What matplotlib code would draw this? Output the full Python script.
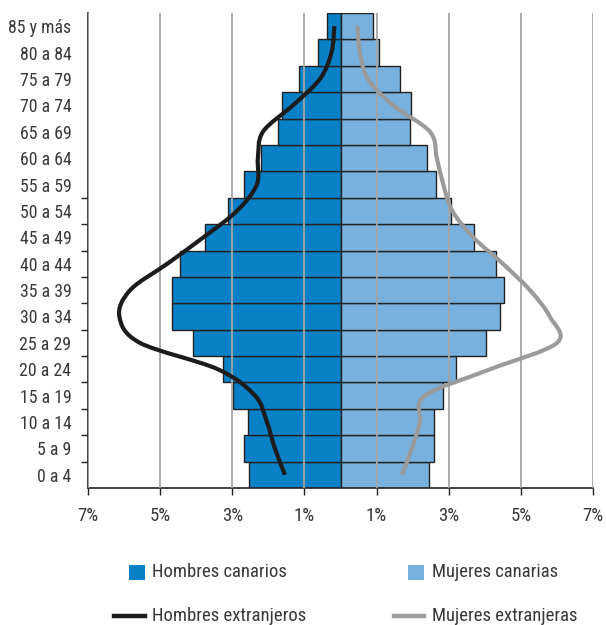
import matplotlib
matplotlib.use('Agg')
import matplotlib.pyplot as plt
from matplotlib.path import Path
from matplotlib.patches import PathPatch, Rectangle
from matplotlib.lines import Line2D
import numpy as np

plt.rcParams['font.family'] = ['Roboto Condensed', 'DejaVu Sans']

grupos = ['0 a 4', '5 a 9', '10 a 14', '15 a 19', '20 a 24', '25 a 29', '30 a 34',
          '35 a 39', '40 a 44', '45 a 49', '50 a 54', '55 a 59', '60 a 64', '65 a 69',
          '70 a 74', '75 a 79', '80 a 84', '85 y más']

# % de la poblacion (de 0 a 4 hasta 85 y mas)
hombres_canarios = [2.54, 2.67, 2.56, 2.97, 3.25, 4.10, 4.66, 4.68, 4.44, 3.77,
                    3.12, 2.68, 2.21, 1.72, 1.61, 1.14, 0.62, 0.38]
mujeres_canarias = [2.46, 2.58, 2.58, 2.85, 3.21, 4.03, 4.42, 4.54, 4.30, 3.70,
                    3.07, 2.64, 2.40, 1.94, 1.96, 1.64, 1.07, 0.89]
hombres_extranjeros = [1.54, 1.82, 2.04, 2.37, 3.40, 5.56, 6.13, 5.83, 4.80, 3.80,
                       2.87, 2.32, 2.29, 2.15, 1.32, 0.57, 0.25, 0.17]
mujeres_extranjeras = [1.70, 1.98, 2.20, 2.34, 4.15, 6.00, 5.80, 5.25, 4.50, 3.68,
                       3.10, 2.85, 2.67, 2.48, 1.46, 0.76, 0.54, 0.47]

ticks_x = [-7, -5, -3, -1, 1, 3, 5, 7]
ticks_x_labels = ['7%', '5%', '3%', '1%', '1%', '3%', '5%', '7%']

c_hombres = '#0a80c6'
c_mujeres = '#78b0de'
c_hext = '#1c1c1c'
c_mext = '#9b9b9b'
c_texto = '#383838'


def smooth_path(xs, ys):
    # curva suave (catmull-rom como bezier) que pasa por los puntos
    pts = np.column_stack([xs, ys])
    verts = [pts[0]]
    codes = [Path.MOVETO]
    n = len(pts)
    for i in range(n - 1):
        p0 = pts[max(i - 1, 0)]
        p1 = pts[i]
        p2 = pts[i + 1]
        p3 = pts[min(i + 2, n - 1)]
        verts += [p1 + (p2 - p0) / 6, p2 - (p3 - p1) / 6, p2]
        codes += [Path.CURVE4] * 3
    return Path(verts, codes)


fig = plt.figure(figsize=(6.06, 6.25), dpi=100)
ax = fig.add_axes([88 / 606, 1 - 488 / 625, 505 / 606, 475 / 625])

y = np.arange(len(grupos))
ax.barh(y, [-v for v in hombres_canarios], height=1.0, color=c_hombres,
        edgecolor='#222222', linewidth=1.0, zorder=2)
ax.barh(y, mujeres_canarias, height=1.0, color=c_mujeres,
        edgecolor='#222222', linewidth=1.0, zorder=2)

for xv in ticks_x:
    ax.axvline(xv, color='#a5a5a5', linewidth=1.3, zorder=3)

ax.add_patch(PathPatch(smooth_path([-v for v in hombres_extranjeros], y),
                       facecolor='none', edgecolor=c_hext, linewidth=3.0,
                       capstyle='butt', zorder=4))
ax.add_patch(PathPatch(smooth_path(mujeres_extranjeras, y),
                       facecolor='none', edgecolor=c_mext, linewidth=3.0,
                       capstyle='butt', zorder=4))

ax.set_xlim(-7, 7)
ax.set_ylim(-0.5, len(grupos) - 0.5)
ax.set_xticks(ticks_x)
ax.set_xticklabels(ticks_x_labels, fontsize=13.5, color=c_texto)
ax.set_yticks(y)
ax.set_yticklabels(grupos, fontsize=12.8, color=c_texto)
ax.set_yticks(np.arange(0.5, 11.5, 1.0), minor=True)
ax.tick_params(axis='y', which='major', length=0, pad=12)
ax.tick_params(axis='y', which='minor', length=5, width=1.0, color='#222222')
ax.tick_params(axis='x', length=5, width=1.0, color='#222222', pad=9)

for s in ['top', 'right']:
    ax.spines[s].set_visible(False)
for s in ['left', 'bottom']:
    ax.spines[s].set_color('#222222')
    ax.spines[s].set_linewidth(1.2)

# leyenda manual (posiciones en pixeles de la figura)
W, H = 606, 625
def fx(px):
    return px / W
def fy(py):
    return 1 - py / H

fig.patches.append(Rectangle((fx(129), fy(580)), 16 / W, 15 / H, transform=fig.transFigure,
                             facecolor=c_hombres, edgecolor='none'))
fig.patches.append(Rectangle((fx(408), fy(580)), 16 / W, 15 / H, transform=fig.transFigure,
                             facecolor=c_mujeres, edgecolor='none'))
fig.lines.append(Line2D([fx(114), fx(145)], [fy(616), fy(616)], transform=fig.transFigure,
                        color=c_hext, linewidth=3.2))
fig.lines.append(Line2D([fx(394), fx(424)], [fy(616), fy(616)], transform=fig.transFigure,
                        color=c_mext, linewidth=3.2))
fig.text(fx(152), fy(572), 'Hombres canarios', fontsize=13.4, color=c_texto, va='center')
fig.text(fx(432), fy(572), 'Mujeres canarias', fontsize=13.4, color=c_texto, va='center')
fig.text(fx(152), fy(616), 'Hombres extranjeros', fontsize=13.4, color=c_texto, va='center')
fig.text(fx(432), fy(616), 'Mujeres extranjeras', fontsize=13.4, color=c_texto, va='center')

fig.savefig('out.png', dpi=100)
